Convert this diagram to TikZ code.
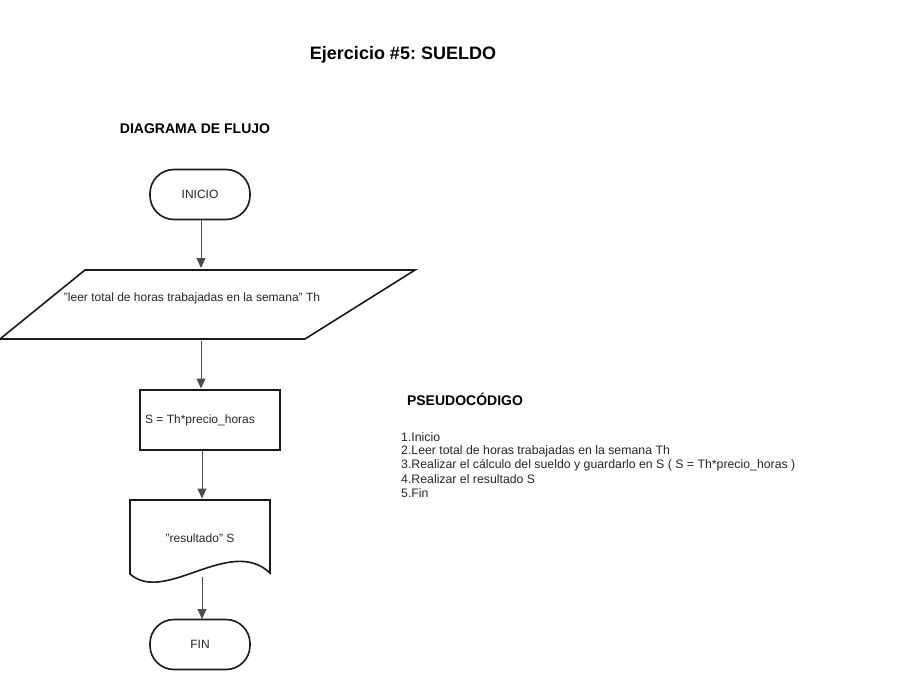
\documentclass[tikz,border=0pt]{standalone}
\usepackage{fontspec}
\setmainfont{Liberation Sans}[Ligatures=ResetAll]
\usetikzlibrary{arrows.meta}
\frenchspacing
\newcommand{\dq}{\symbol{34}}
\tikzset{
  shapeline/.style={draw=black!90, line width=1.6pt},
  term/.style={shapeline, rounded corners=24pt, minimum width=100pt, minimum height=50pt, inner sep=0pt, font=\fontsize{12}{14}\selectfont, text=black!85},
  procbox/.style={shapeline, minimum width=140pt, minimum height=60pt, inner sep=0pt},
  plain/.style={inner sep=0pt, font=\fontsize{12}{14}\selectfont, text=black!85},
  pseudo/.style={inner sep=0pt, anchor=west, font=\fontsize{12.3}{14}\selectfont, text=black!85},
  heading/.style={inner sep=0pt, font=\fontsize{14}{16}\selectfont\bfseries, text=black},
  flow/.style={draw=black!70, line width=1pt, -{Triangle[width=9pt,length=10pt]}},
  ghost/.style={inner sep=0pt, minimum width=#1, minimum height=0pt}
}
\begin{document}
\begin{tikzpicture}[x=1pt,y=-1pt]
\useasboundingbox (0,0) rectangle (908,690);
% titles
\node[inner sep=0pt, font=\fontsize{18}{21}\selectfont\bfseries] (title) at (403,55) {Ejercicio \#5: SUELDO};
\node[heading] (dflabel) at (195,129) {DIAGRAMA DE FLUJO};
\node[heading] (pslabel) at (465,399) {PSEUDOCÓDIGO};
% start
\node[term] (ini) at (200,194.5) {INICIO};
% input parallelogram
\draw[shapeline] (85,270) -- (415,270) -- (305,339) -- (0,339) -- cycle;
\node[ghost=100pt, minimum height=69pt] (inp) at (207.5,304.5) {};
\node[plain] (inptext) at (192,298) {\dq leer total de horas trabajadas en la semana\dq{} Th};
% process
\node[procbox] (proc) at (210,420) {};
\node[plain] (proctext) at (200,420) {S = Th*precio\_horas};
% document
\draw[shapeline] (130,500) -- (270,500) -- (270,573)
  .. controls (230,535) and (165,605) .. (130,574) -- cycle;
\node[ghost=100pt, minimum height=72pt] (doc) at (200,536) {};
\node[plain] (doctext) at (200,538) {\dq resultado\dq{} S};
\coordinate (docb) at (202,577);
% end
\node[term] (fin) at (200,644.5) {FIN};
% connectors
\draw[flow] (201,219.5) -- (201,268);
\draw[flow] (201,341) -- (201,388.5);
\draw[flow] (proc.south -| 202,0) -- (202,498.5);
\draw[flow] (docb) -- (202,619);
% pseudocode
\node[pseudo] (p1) at (401,437) {1.Inicio};
\node[pseudo] (p2) at (401,451) {2.Leer total de horas trabajadas en la semana Th};
\node[pseudo] (p3) at (401,465) {3.Realizar el cálculo del sueldo y guardarlo en S ( S = Th*precio\_horas )};
\node[pseudo] (p4) at (401,479) {4.Realizar el resultado S};
\node[pseudo] (p5) at (401,493) {5.Fin};
\end{tikzpicture}
\end{document}
